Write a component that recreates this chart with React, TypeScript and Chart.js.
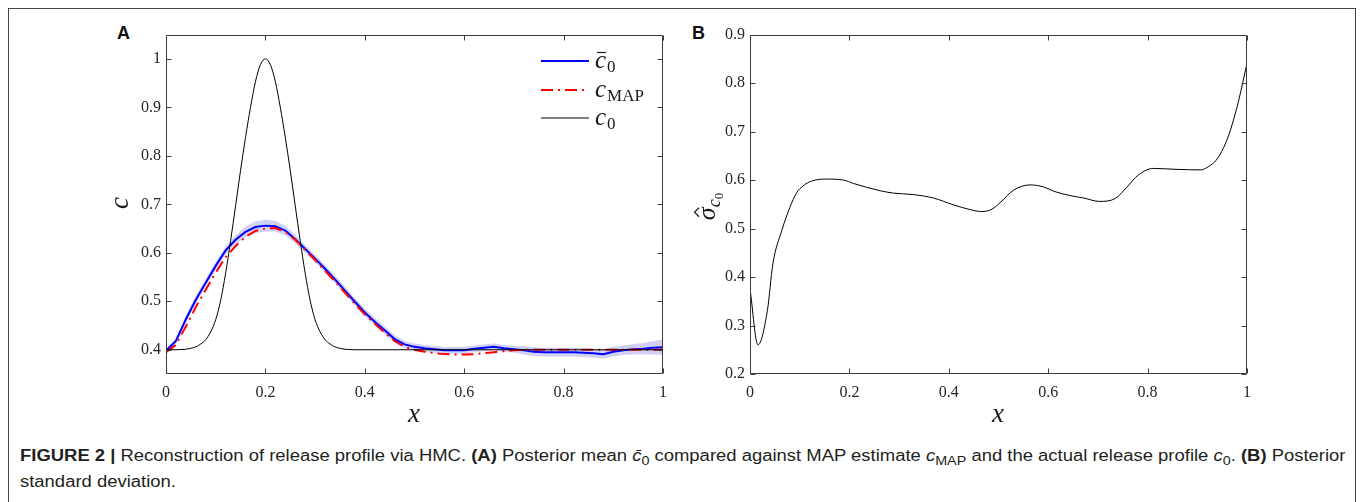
import React, { useEffect, useLayoutEffect, useRef, useState } from 'react';
import { Chart, registerables } from 'chart.js';

Chart.register(...registerables);

// ---------- data ----------
const xGrid = [
  0, 0.02, 0.04, 0.06, 0.08, 0.1, 0.12, 0.14, 0.16, 0.18, 0.2, 0.22, 0.24, 0.26, 0.28, 0.3, 0.32, 0.34,
  0.36, 0.38, 0.4, 0.42, 0.44, 0.46, 0.48, 0.5, 0.52, 0.54, 0.56, 0.58, 0.6, 0.62, 0.64, 0.66, 0.68,
  0.7, 0.72, 0.74, 0.76, 0.78, 0.8, 0.82, 0.84, 0.86, 0.88, 0.9, 0.92, 0.94, 0.96, 0.98, 1.0,
];
const meanVals = [
  0.398, 0.418, 0.463, 0.503, 0.538, 0.573, 0.605, 0.627, 0.643, 0.653, 0.656, 0.655, 0.646, 0.628,
  0.608, 0.588, 0.567, 0.545, 0.522, 0.499, 0.477, 0.458, 0.44, 0.422, 0.411, 0.406, 0.403, 0.401,
  0.399, 0.399, 0.399, 0.402, 0.404, 0.406, 0.403, 0.401, 0.399, 0.396, 0.395, 0.395, 0.395, 0.395,
  0.394, 0.393, 0.391, 0.396, 0.399, 0.401, 0.402, 0.404, 0.405,
];
const bandHalf = [
  0.003, 0.005, 0.007, 0.008, 0.008, 0.008, 0.008, 0.009, 0.011, 0.012, 0.012, 0.011, 0.01, 0.009,
  0.008, 0.008, 0.008, 0.008, 0.008, 0.008, 0.008, 0.008, 0.008, 0.008,
  0.007, 0.007, 0.007, 0.007, 0.007, 0.007, 0.007, 0.007, 0.007, 0.007, 0.007, 0.007,
  0.009, 0.009, 0.009, 0.009, 0.009, 0.009, 0.009, 0.009,
  0.009, 0.01, 0.01, 0.011, 0.012, 0.014, 0.016,
];
const mapVals = [
  0.395, 0.41, 0.448, 0.488, 0.524, 0.559, 0.591, 0.614, 0.633, 0.645, 0.65, 0.651, 0.643, 0.627,
  0.606, 0.585, 0.563, 0.541, 0.518, 0.495, 0.473, 0.454, 0.435, 0.418, 0.406, 0.4, 0.396, 0.393,
  0.391, 0.39, 0.39, 0.391, 0.393, 0.395, 0.397, 0.399,
  0.4, 0.4, 0.4, 0.4, 0.4, 0.4, 0.4, 0.4, 0.4, 0.4, 0.4, 0.4, 0.4, 0.4, 0.4,
];
const trueX = [
  0, 0.01, 0.02, 0.03, 0.04, 0.05, 0.06, 0.07, 0.08, 0.09, 0.1, 0.11, 0.12, 0.13, 0.14, 0.15, 0.16,
  0.17, 0.18, 0.19, 0.2, 0.21, 0.22, 0.23, 0.24, 0.25, 0.26, 0.27, 0.28, 0.29, 0.3, 0.31, 0.32, 0.33,
  0.34, 0.35, 0.36, 0.37, 0.38, 1.0,
];
const trueVals = [
  0.4, 0.4, 0.4, 0.4005, 0.401, 0.403, 0.406, 0.412, 0.421, 0.437, 0.462, 0.502, 0.558, 0.625, 0.697,
  0.77, 0.838, 0.9, 0.953, 0.988, 1.0, 0.988, 0.953, 0.9, 0.838, 0.77, 0.697, 0.625, 0.558, 0.502,
  0.462, 0.437, 0.421, 0.412, 0.406, 0.403, 0.401, 0.4005, 0.4, 0.4,
];
const sigmaX = [
  0, 0.016, 0.035, 0.046, 0.064, 0.08, 0.094, 0.107, 0.124, 0.154, 0.188, 0.208, 0.262, 0.289, 0.329,
  0.369, 0.409, 0.443, 0.466, 0.487, 0.505, 0.53, 0.564, 0.59, 0.614, 0.644, 0.671, 0.703, 0.735,
  0.758, 0.782, 0.812, 0.859, 0.906, 0.923, 0.938, 0.953, 0.966, 0.983, 1.0,
];
const sigmaVals = [
  0.376, 0.26, 0.331, 0.427, 0.496, 0.543, 0.574, 0.588, 0.598, 0.602, 0.6, 0.593, 0.578, 0.573, 0.57,
  0.563, 0.549, 0.539, 0.535, 0.54, 0.555, 0.579, 0.59, 0.586, 0.576, 0.568, 0.563, 0.556, 0.562,
  0.585, 0.611, 0.624, 0.622, 0.621, 0.628, 0.641, 0.667, 0.701, 0.763, 0.841,
];
const xTicks = [0, 0.2, 0.4, 0.6, 0.8, 1];
const xTickLabels = ['0', '0.2', '0.4', '0.6', '0.8', '1'];
const yTicksA = [0.4, 0.5, 0.6, 0.7, 0.8, 0.9, 1];
const yTickLabelsA = ['0.4', '0.5', '0.6', '0.7', '0.8', '0.9', '1'];
const yTicksB = [0.2, 0.3, 0.4, 0.5, 0.6, 0.7, 0.8, 0.9];
const yTickLabelsB = ['0.2', '0.3', '0.4', '0.5', '0.6', '0.7', '0.8', '0.9'];

// ---------- helpers ----------
const SERIF = '"Liberation Serif", "DejaVu Serif", serif';
const SANS = '"Liberation Sans", Arial, sans-serif';

function pts(xs: number[], ys: number[]) {
  return xs.map((x, i) => ({ x, y: ys[i] }));
}

function seg(ctx: CanvasRenderingContext2D, x1: number, y1: number, x2: number, y2: number) {
  ctx.beginPath();
  ctx.moveTo(x1, y1);
  ctx.lineTo(x2, y2);
  ctx.stroke();
}

const boxPlugin = {
  id: 'matlabBox',
  afterDatasetsDraw(chart: any) {
    const { ctx, chartArea: a, scales } = chart;
    ctx.save();
    ctx.strokeStyle = '#3c3c3c';
    ctx.lineWidth = 1;
    ctx.setLineDash([]);
    const L = Math.round(a.left) + 0.5;
    const R = Math.round(a.right) - 0.5;
    const T = Math.round(a.top) + 0.5;
    const B = Math.round(a.bottom) - 0.5;
    ctx.beginPath();
    ctx.rect(L, T, R - L, B - T);
    ctx.stroke();
    const tl = 5;
    ctx.beginPath();
    for (const t of scales.x.ticks) {
      const p = Math.round(scales.x.getPixelForValue(t.value)) + 0.5;
      ctx.moveTo(p, B);
      ctx.lineTo(p, B - tl);
      ctx.moveTo(p, T);
      ctx.lineTo(p, T + tl);
    }
    for (const t of scales.y.ticks) {
      const p = Math.round(scales.y.getPixelForValue(t.value)) + 0.5;
      ctx.moveTo(L, p);
      ctx.lineTo(L + tl, p);
      ctx.moveTo(R, p);
      ctx.lineTo(R - tl, p);
    }
    ctx.stroke();
    ctx.restore();
  },
};

function makeScales(yMin: number, yMax: number, yTicks: number[], yLabels: string[]) {
  const tickFont = { family: SERIF, size: 16 };
  return {
    x: {
      type: 'linear',
      min: 0,
      max: 1,
      grid: { display: false, drawTicks: false },
      border: { display: false },
      afterBuildTicks: (s: any) => {
        s.ticks = xTicks.map((v) => ({ value: v }));
      },
      afterFit: (s: any) => {
        s.height = 66;
      },
      ticks: {
        autoSkip: false,
        maxRotation: 0,
        padding: 9,
        color: '#262626',
        font: tickFont,
        callback: (_v: any, i: number) => xTickLabels[i],
      },
    },
    y: {
      type: 'linear',
      min: yMin,
      max: yMax,
      grid: { display: false, drawTicks: false },
      border: { display: false },
      afterBuildTicks: (s: any) => {
        s.ticks = yTicks.map((v) => ({ value: v }));
      },
      afterFit: (s: any) => {
        s.width = 66;
      },
      ticks: {
        autoSkip: false,
        padding: 5,
        color: '#262626',
        font: tickFont,
        callback: (_v: any, i: number) => yLabels[i],
      },
    },
  };
}

const overlayA = {
  id: 'overlayA',
  afterDraw(chart: any) {
    const ctx: CanvasRenderingContext2D = chart.ctx;
    ctx.save();
    // legend samples
    ctx.lineWidth = 2;
    ctx.strokeStyle = '#0000ff';
    ctx.setLineDash([]);
    seg(ctx, 441, 41, 489, 41);
    ctx.strokeStyle = '#ff0000';
    ctx.setLineDash([12, 5, 2, 5]);
    seg(ctx, 441, 70, 489, 70);
    ctx.setLineDash([]);
    ctx.strokeStyle = '#000';
    ctx.lineWidth = 1;
    seg(ctx, 441, 98, 489, 98);
    // legend text
    ctx.fillStyle = '#1a1a1a';
    ctx.strokeStyle = '#1a1a1a';
    ctx.textAlign = 'left';
    ctx.textBaseline = 'alphabetic';
    const cFont = `italic 25px ${SERIF}`;
    const subFont = `17px ${SERIF}`;
    ctx.font = cFont;
    const cw = ctx.measureText('c').width;
    // entry 1: c-bar_0
    ctx.fillText('c', 495, 48);
    ctx.lineWidth = 1.2;
    seg(ctx, 497, 32.5, 495 + cw, 32.5);
    ctx.font = subFont;
    ctx.fillText('0', 495 + cw + 1, 52);
    // entry 2: c_MAP
    ctx.font = cFont;
    ctx.fillText('c', 495, 77);
    ctx.font = subFont;
    ctx.fillText('MAP', 495 + cw + 1, 81);
    // entry 3: c_0
    ctx.font = cFont;
    ctx.fillText('c', 495, 105);
    ctx.font = subFont;
    ctx.fillText('0', 495 + cw + 1, 109);

    // axis titles
    ctx.font = `italic 27px ${SERIF}`;
    ctx.textAlign = 'center';
    ctx.fillText('x', 314, 402);
    ctx.translate(28, 183);
    ctx.rotate(-Math.PI / 2);
    ctx.fillText('c', 0, 0);
    ctx.restore();
  },
};

const overlayB = {
  id: 'overlayB',
  afterDraw(chart: any) {
    const ctx: CanvasRenderingContext2D = chart.ctx;
    ctx.save();
    ctx.fillStyle = '#1a1a1a';
    ctx.strokeStyle = '#1a1a1a';
    ctx.textBaseline = 'alphabetic';
    ctx.font = `italic 27px ${SERIF}`;
    ctx.textAlign = 'center';
    ctx.fillText('x', 314, 402);

    // rotated sigma-hat_{c_0}
    ctx.translate(31, 186);
    ctx.rotate(-Math.PI / 2);
    ctx.textAlign = 'left';
    const f1 = `italic 26px ${SERIF}`;
    const f2 = `italic 18px ${SERIF}`;
    const f3 = `13px ${SERIF}`;
    ctx.font = f1;
    const w1 = ctx.measureText('σ').width;
    ctx.font = f2;
    const w2 = ctx.measureText('c').width;
    ctx.font = f3;
    const w3 = ctx.measureText('0').width;
    const total = w1 + w2 + w3 + 1;
    let x = -total / 2;
    ctx.font = f1;
    ctx.fillText('σ', x, 0);
    // hat
    ctx.lineWidth = 1.2;
    const hc = x + w1 / 2 + 1.5;
    ctx.beginPath();
    ctx.moveTo(hc - 4.5, -16);
    ctx.lineTo(hc, -20.5);
    ctx.lineTo(hc + 4.5, -16);
    ctx.stroke();
    x += w1;
    ctx.font = f2;
    ctx.fillText('c', x, 5);
    x += w2;
    ctx.font = f3;
    ctx.fillText('0', x, 8);
    ctx.restore();
  },
};

function ChartA() {
  const ref = useRef<HTMLCanvasElement>(null);
  useEffect(() => {
    const lower = meanVals.map((m, i) => m - bandHalf[i]);
    const upper = meanVals.map((m, i) => m + bandHalf[i]);
    const chart = new Chart(ref.current!, {
      type: 'line',
      data: {
        datasets: [
          {
            label: 'lower',
            data: pts(xGrid, lower),
            borderColor: 'rgba(0,0,0,0)',
            borderWidth: 0,
            pointRadius: 0,
            fill: false,
            order: 5,
          },
          {
            label: 'upper',
            data: pts(xGrid, upper),
            borderColor: 'rgba(0,0,0,0)',
            borderWidth: 0,
            pointRadius: 0,
            fill: '-1',
            backgroundColor: 'rgba(70,70,220,0.25)',
            order: 4,
          },
          {
            label: 'mean',
            data: pts(xGrid, meanVals),
            borderColor: '#0000ff',
            borderWidth: 2,
            pointRadius: 0,
            fill: false,
            order: 3,
          },
          {
            label: 'MAP',
            data: pts(xGrid, mapVals),
            borderColor: '#ff0000',
            borderWidth: 2,
            borderDash: [12, 5, 2, 5],
            pointRadius: 0,
            fill: false,
            order: 2,
          },
          {
            label: 'c0',
            data: pts(trueX, trueVals),
            borderColor: '#000000',
            borderWidth: 1,
            pointRadius: 0,
            fill: false,
            cubicInterpolationMode: 'monotone',
            order: 1,
          },
        ],
      } as any,
      options: {
        responsive: false,
        animation: false,
        events: [],
        layout: { padding: { top: 13, right: 17, left: 0, bottom: 0 } },
        plugins: { legend: { display: false }, tooltip: { enabled: false } },
        scales: makeScales(0.35, 1.05, yTicksA, yTickLabelsA) as any,
      },
      plugins: [boxPlugin, overlayA],
    });
    return () => chart.destroy();
  }, []);
  return (
    <canvas
      ref={ref}
      width={580}
      height={420}
      style={{ position: 'absolute', left: 100, top: 20, width: 580, height: 420 }}
    />
  );
}

function ChartB() {
  const ref = useRef<HTMLCanvasElement>(null);
  useEffect(() => {
    const chart = new Chart(ref.current!, {
      type: 'line',
      data: {
        datasets: [
          {
            label: 'sigma',
            data: pts(sigmaX, sigmaVals),
            borderColor: '#000000',
            borderWidth: 1,
            pointRadius: 0,
            fill: false,
            cubicInterpolationMode: 'monotone',
          },
        ],
      } as any,
      options: {
        responsive: false,
        animation: false,
        events: [],
        layout: { padding: { top: 13, right: 17, left: 0, bottom: 0 } },
        plugins: { legend: { display: false }, tooltip: { enabled: false } },
        scales: makeScales(0.2, 0.9, yTicksB, yTickLabelsB) as any,
      },
      plugins: [boxPlugin, overlayB],
    });
    return () => chart.destroy();
  }, []);
  return (
    <canvas
      ref={ref}
      width={580}
      height={420}
      style={{ position: 'absolute', left: 684, top: 20, width: 580, height: 420 }}
    />
  );
}

const subStyle: React.CSSProperties = { fontSize: '0.78em', verticalAlign: '-0.3em', lineHeight: 0 };

export default function App() {
  const line1 = useRef<HTMLSpanElement>(null);
  const [sx, setSx] = useState(1);
  useLayoutEffect(() => {
    if (line1.current) {
      const w = line1.current.offsetWidth;
      if (w > 0) setSx(1326 / w);
    }
  }, []);
  const capStyle: React.CSSProperties = {
    position: 'absolute',
    left: 20,
    fontFamily: SANS,
    fontSize: 16,
    lineHeight: '16px',
    color: '#231f20',
    whiteSpace: 'nowrap',
    transformOrigin: 'left top',
    transform: `scaleX(${sx})`,
  };
  return (
    <div
      style={{
        position: 'fixed',
        left: 0,
        top: 0,
        width: 1360,
        height: 502,
        background: '#fff',
        overflow: 'hidden',
      }}
    >
      <div
        style={{
          position: 'absolute',
          left: 8,
          top: 8,
          width: 1346,
          height: 510,
          borderTop: '1px solid #444',
          borderLeft: '1px solid #444',
          borderRight: '1px solid #444',
        }}
      />
      <div
        style={{
          position: 'absolute',
          left: 117,
          top: 24,
          fontFamily: SANS,
          fontWeight: 'bold',
          fontSize: 18,
          lineHeight: '18px',
          color: '#111',
        }}
      >
        A
      </div>
      <div
        style={{
          position: 'absolute',
          left: 692,
          top: 24,
          fontFamily: SANS,
          fontWeight: 'bold',
          fontSize: 18,
          lineHeight: '18px',
          color: '#111',
        }}
      >
        B
      </div>
      <ChartA />
      <ChartB />
      <div style={{ ...capStyle, top: 448 }}>
        <span ref={line1}>
          <b>FIGURE 2 |</b> Reconstruction of release profile via HMC. <b>(A)</b> Posterior mean{' '}
          <i>c&#772;</i>
          <span style={subStyle}>0</span> compared against MAP estimate <i>c</i>
          <span style={subStyle}>MAP</span> and the actual release profile <i>c</i>
          <span style={subStyle}>0</span>. <b>(B)</b> Posterior
        </span>
      </div>
      <div style={{ ...capStyle, top: 474 }}>standard deviation.</div>
    </div>
  );
}
